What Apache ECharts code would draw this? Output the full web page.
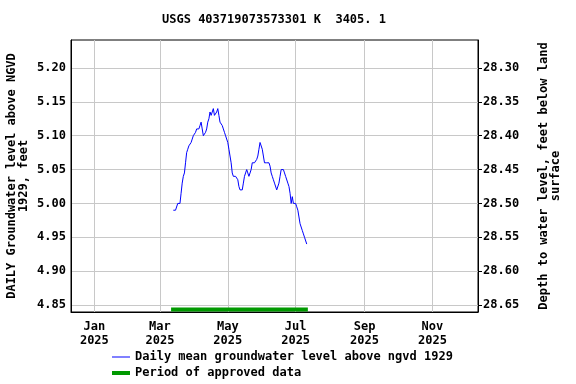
<!DOCTYPE html>
<html><head><meta charset="utf-8">
<script src="https://cdn.jsdelivr.net/npm/echarts@6/dist/echarts.min.js"></script>
<style>html,body{margin:0;padding:0;background:#fff}#c{width:576px;height:384px}</style>
</head><body><div id="c"></div>
<script>
const titleText = 'USGS 403719073573301 K  3405. 1';
const seriesName = 'Daily mean groundwater level above ngvd 1929';
const approvedName = 'Period of approved data';
// daily values starting 2025-03-13 (one per day)
const startDate = [2025, 2, 13];
const levels = [
 4.99,4.99,4.99,4.99,5.00,5.00,5.00,5.015,5.03,5.04,
 5.045,5.06,5.075,5.08,5.085,5.085,5.09,5.095,5.10,5.10,
 5.105,5.11,5.11,5.11,5.115,5.12,5.11,5.10,5.10,5.105,
 5.11,5.12,5.125,5.135,5.13,5.13,5.14,5.13,5.13,5.135,
 5.14,5.13,5.12,5.12,5.115,5.11,5.105,5.10,5.10,5.09,
 5.08,5.07,5.06,5.045,5.04,5.04,5.04,5.04,5.035,5.025,
 5.02,5.02,5.02,5.03,5.04,5.045,5.05,5.045,5.04,5.04,
 5.05,5.06,5.06,5.06,5.06,5.065,5.07,5.08,5.09,5.09,
 5.08,5.07,5.06,5.06,5.06,5.06,5.06,5.055,5.045,5.04,
 5.035,5.03,5.03,5.02,5.02,5.03,5.04,5.05,5.05,5.05,
 5.045,5.04,5.04,5.03,5.025,5.015,5.00,5.01,5.00,5.00,
 5.00,4.995,4.99,4.98,4.97,4.97,4.96,4.955,4.95,4.95,
 4.94
];
const approvedStart = [2025, 2, 11];
const approvedEnd = [2025, 6, 12];
const approvedLevel = 4.8435;
const xMin = [2024, 11, 11];
const xMax = [2025, 11, 12];
const xTickDates = [[2025,0,1],[2025,2,1],[2025,4,1],[2025,6,1],[2025,8,1],[2025,10,1]];
const monthNames = ['Jan','Feb','Mar','Apr','May','Jun','Jul','Aug','Sep','Oct','Nov','Dec'];
const yTicks = [4.85,4.90,4.95,5.00,5.05,5.10,5.15,5.20];
const yMin = 4.8397, yMax = 5.2413;
const datumSum = 33.50; // depth = datumSum - level
const depthTicks = [28.30,28.35,28.40,28.45,28.50,28.55,28.60,28.65];

const d = a => new Date(a[0], a[1], a[2]).getTime();
const lineData = levels.map((v, i) => [new Date(startDate[0], startDate[1], startDate[2] + i).getTime(), v]);
const approvedData = [[d(approvedStart), approvedLevel], [d(approvedEnd), approvedLevel]];

const FONT = 'DejaVu Sans Mono';
const txt = {fontFamily: FONT, fontSize: 12, fontWeight: 'bold', color: '#000'};
const chart = echarts.init(document.getElementById('c'), null, {renderer: 'canvas'});
chart.setOption({
  animation: false,
  backgroundColor: '#fff',
  title: {text: titleText, left: 274, textAlign: 'center', top: 14, padding: 0,
    textStyle: Object.assign({}, txt)},
  grid: {left: 71, right: 98, top: 40, bottom: 72, outerBoundsMode: 'none', containLabel: false,
    show: true, borderColor: '#000', borderWidth: 1, backgroundColor: 'transparent'},
  legend: [
    {data: [seriesName], left: 112, top: 351, padding: 0, orient: 'vertical', icon: 'rect', itemWidth: 18, itemHeight: 1, itemGap: 6,
      textStyle: Object.assign({}, txt), selectedMode: false},
    {data: [approvedName], left: 112, top: 367, padding: 0, orient: 'vertical', icon: 'rect', itemWidth: 18, itemHeight: 4, itemGap: 6,
      textStyle: Object.assign({}, txt), selectedMode: false}
  ],
  xAxis: {
    type: 'value', min: d(xMin), max: d(xMax),
    axisLine: {show: true, lineStyle: {color: '#000'}},
    axisTick: {show: false, customValues: xTickDates.map(d)},
    axisLabel: Object.assign({}, txt, {customValues: xTickDates.map(d), margin: 8, lineHeight: 14,
      formatter: v => { const t = new Date(v); return monthNames[t.getMonth()] + '\n' + t.getFullYear(); }}),
    splitLine: {show: true, lineStyle: {color: '#c8c8c8', width: 1}}
  },
  yAxis: [
    {type: 'value', min: yMin, max: yMax, position: 'left',
      name: 'DAILY Groundwater level above NGVD\n1929, feet', nameLocation: 'middle', nameGap: 41, nameMoveOverlap: false,
      nameTextStyle: Object.assign({}, txt, {lineHeight: 12}),
      axisLine: {show: true, lineStyle: {color: '#000'}},
      axisTick: {show: false, customValues: yTicks},
      axisLabel: Object.assign({}, txt, {customValues: yTicks, margin: 5, formatter: v => v.toFixed(2)}),
      splitLine: {show: true, lineStyle: {color: '#c8c8c8', width: 1}}},
    {type: 'value', min: datumSum - yMax, max: datumSum - yMin, inverse: true, position: 'right',
      name: 'Depth to water level, feet below land\nsurface', nameLocation: 'middle', nameGap: 60, nameRotate: 90, nameMoveOverlap: false,
      nameTextStyle: Object.assign({}, txt, {lineHeight: 12}),
      axisLine: {show: true, lineStyle: {color: '#000'}},
      axisTick: {show: true, inside: false, length: 4, customValues: depthTicks, lineStyle: {color: '#000'}},
      axisLabel: Object.assign({}, txt, {customValues: depthTicks, margin: 5, formatter: v => v.toFixed(2)}),
      splitLine: {show: false}}
  ],
  series: [
    {name: seriesName, type: 'line', data: lineData, yAxisIndex: 0, showSymbol: false, symbol: 'none',
      lineStyle: {color: '#0000ff', width: 1}, itemStyle: {color: '#0000ff'}},
    {name: approvedName, type: 'line', data: approvedData, yAxisIndex: 0, showSymbol: false, symbol: 'none',
      lineStyle: {color: '#009900', width: 4, cap: 'butt'}, itemStyle: {color: '#009900'}}
  ]
});
</script></body></html>
